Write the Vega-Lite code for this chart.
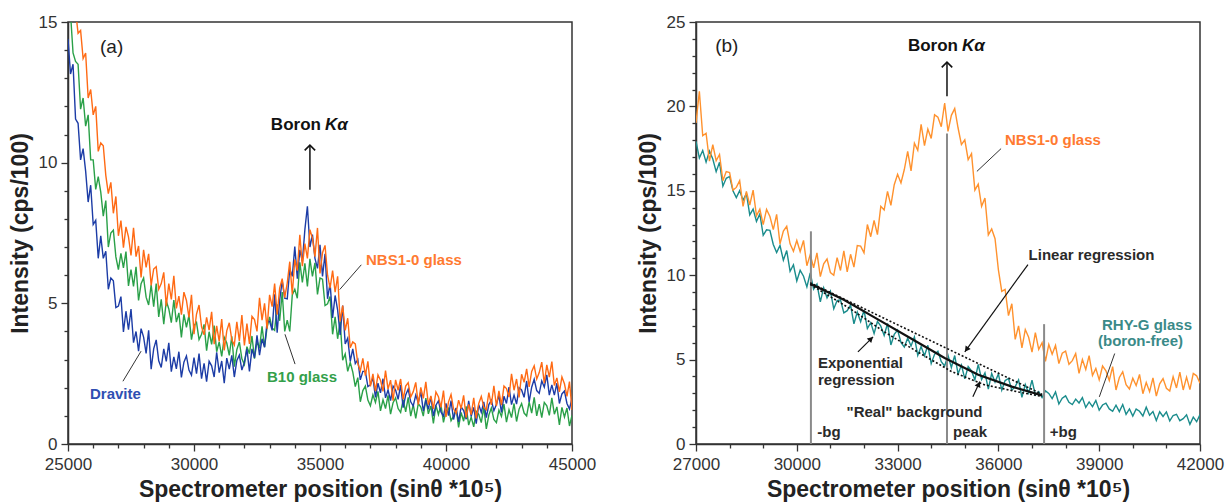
{
"$schema":"https://vega.github.io/schema/vega-lite/v6.json",
"padding":{"left":8,"top":12,"right":0,"bottom":0},
"background":"white",
"bounds":"flush",
"spacing":124,
"resolve":{"scale":{"color":"independent"}},
"config":{"font":"Liberation Sans","view":{"stroke":"#333","strokeWidth":1.5},
"axis":{"grid":false,"domainColor":"#333","domainWidth":1.5,"tickColor":"#333","tickWidth":1.3,"labelFont":"Liberation Sans","labelFontSize":17,"labelColor":"#333","titleFont":"Liberation Sans","titleFontSize":23,"titleFontWeight":"bold","titleColor":"#222","labelFlush":false,"labelOverlap":false}},
"datasets":{
"a":[
{"x":25000,"D":14.4,"G":15.8,"N":16.8},{"x":25100,"D":13.15,"G":15.3,"N":16.95},{"x":25200,"D":13.5,"G":13.9,"N":16.7},{"x":25300,"D":11.55,"G":13.6,"N":15.4},{"x":25400,"D":11.4,"G":13.5,"N":14.6},{"x":25500,"D":10.1,"G":11.9,"N":14.7},{"x":25600,"D":10.5,"G":12.3,"N":13.7},{"x":25700,"D":9.7,"G":11.3,"N":13.9},{"x":25800,"D":8.6,"G":11.7,"N":12.3},{"x":25900,"D":9.2,"G":10.1,"N":12.6},
{"x":26000,"D":7.8,"G":10.1,"N":11.7},{"x":26100,"D":7.95,"G":9.05,"N":12.0},{"x":26200,"D":6.6,"G":9.5,"N":10.4},{"x":26300,"D":7.4,"G":8.95,"N":10.7},{"x":26400,"D":6.6,"G":8.1,"N":10.6},{"x":26500,"D":6.85,"G":8.65,"N":9.55},{"x":26600,"D":5.5,"G":7.0,"N":8.9},{"x":26700,"D":5.9,"G":7.5,"N":9.3},{"x":26800,"D":5.8,"G":7.6,"N":8.2},{"x":26900,"D":4.85,"G":6.65,"N":8.8},
{"x":27000,"D":4.9,"G":6.2,"N":7.4},{"x":27100,"D":5.24,"G":6.78,"N":7.94},{"x":27200,"D":3.98,"G":6.26,"N":6.98},{"x":27300,"D":4.72,"G":6.84,"N":7.72},{"x":27400,"D":4.06,"G":5.62,"N":7.36},{"x":27500,"D":4.8,"G":6.2,"N":6.7},{"x":27600,"D":3.6,"G":5.6,"N":7.68},{"x":27700,"D":4.0,"G":6.3,"N":6.66},{"x":27800,"D":3.3,"G":5.1,"N":7.04},{"x":27900,"D":4.1,"G":5.7,"N":5.92},
{"x":28000,"D":3.8,"G":5.9,"N":6.9},{"x":28100,"D":3.22,"G":5.22,"N":6.28},{"x":28200,"D":4.04,"G":4.94,"N":6.76},{"x":28300,"D":2.66,"G":5.66,"N":5.64},{"x":28400,"D":3.38,"G":4.88,"N":6.22},{"x":28500,"D":3.7,"G":5.7,"N":6.3},{"x":28600,"D":2.96,"G":4.52,"N":5.5},{"x":28700,"D":2.72,"G":5.14,"N":5.7},{"x":28800,"D":3.38,"G":4.26,"N":6.1},{"x":28900,"D":2.94,"G":5.08,"N":4.9},
{"x":29000,"D":3.6,"G":4.8,"N":5.7},{"x":29100,"D":2.57,"G":4.31,"N":5.14},{"x":29200,"D":3.1,"G":5.12,"N":5.98},{"x":29300,"D":2.67,"G":4.33,"N":4.82},{"x":29400,"D":3.28,"G":4.66,"N":5.26},{"x":29500,"D":2.37,"G":3.79,"N":4.6},{"x":29600,"D":2.91,"G":4.61,"N":5.4},{"x":29700,"D":3.13,"G":4.15,"N":5.1},{"x":29800,"D":2.63,"G":4.57,"N":4.5},{"x":29900,"D":2.45,"G":3.71,"N":5.3},
{"x":30000,"D":3.07,"G":4.21,"N":3.9},{"x":30100,"D":2.5,"G":4.32,"N":4.62},{"x":30200,"D":3.21,"G":3.71,"N":4.94},{"x":30300,"D":2.32,"G":3.9,"N":4.16},{"x":30400,"D":2.87,"G":4.25,"N":3.88},{"x":30500,"D":2.22,"G":3.32,"N":4.5},{"x":30600,"D":2.94,"G":3.99,"N":4.05},{"x":30700,"D":2.78,"G":3.54,"N":4.7},{"x":30800,"D":2.38,"G":4.21,"N":3.55},{"x":30900,"D":3.26,"G":3.28,"N":4.2},
{"x":31000,"D":2.54,"G":3.63,"N":3.65},{"x":31100,"D":2.95,"G":3.11,"N":4.44},{"x":31200,"D":2.16,"G":3.79,"N":3.33},{"x":31300,"D":3.05,"G":3.59,"N":4.02},{"x":31400,"D":2.66,"G":3.15,"N":4.31},{"x":31500,"D":3.15,"G":3.83,"N":3.7},{"x":31600,"D":2.38,"G":2.75,"N":3.52},{"x":31700,"D":2.97,"G":3.35,"N":4.34},{"x":31800,"D":3.16,"G":3.63,"N":3.66},{"x":31900,"D":2.63,"G":3.03,"N":4.58},
{"x":32000,"D":2.9,"G":2.83,"N":3.5},{"x":32100,"D":3.38,"G":3.46,"N":4.28},{"x":32200,"D":2.58,"G":3.21,"N":3.56},{"x":32300,"D":3.38,"G":3.84,"N":4.54},{"x":32400,"D":3.06,"G":3.03,"N":4.42},{"x":32500,"D":3.86,"G":3.66,"N":4.0},{"x":32600,"D":3.16,"G":3.4,"N":5.2},{"x":32700,"D":3.74,"G":4.18,"N":4.4},{"x":32800,"D":3.44,"G":3.44,"N":5.0},{"x":32900,"D":4.34,"G":4.14,"N":4.1},
{"x":33000,"D":4.36,"G":4.52,"N":5.3},{"x":33100,"D":4.04,"G":4.12,"N":4.88},{"x":33200,"D":5.32,"G":4.04,"N":5.7},{"x":33300,"D":3.96,"G":4.96,"N":4.6},{"x":33400,"D":5.12,"G":4.38,"N":5.54},{"x":33500,"D":5.8,"G":5.4,"N":5.88},{"x":33600,"D":5.18,"G":4.0,"N":5.2},{"x":33700,"D":5.16,"G":4.4,"N":5.72},{"x":33800,"D":6.22,"G":4.0,"N":6.48},{"x":33900,"D":5.96,"G":5.3,"N":5.32},
{"x":34000,"D":7.02,"G":5.5,"N":6.56},{"x":34100,"D":5.88,"G":5.18,"N":6.16},{"x":34200,"D":6.9,"G":6.46,"N":7.44},{"x":34300,"D":6.48,"G":5.74,"N":6.32},{"x":34400,"D":7.62,"G":6.42,"N":7.12},{"x":34500,"D":8.45,"G":5.6,"N":6.6},{"x":34600,"D":7.0,"G":6.58,"N":7.62},{"x":34700,"D":7.44,"G":5.96,"N":7.32},{"x":34800,"D":6.6,"G":6.44,"N":6.66},{"x":34900,"D":6.24,"G":5.32,"N":7.68},
{"x":35000,"D":7.08,"G":5.9,"N":6.06},{"x":35100,"D":5.96,"G":5.86,"N":6.8},{"x":35200,"D":6.76,"G":4.92,"N":7.06},{"x":35300,"D":5.16,"G":4.98,"N":6.0},{"x":35400,"D":5.72,"G":5.24,"N":5.54},{"x":35500,"D":4.48,"G":3.9,"N":6.16},{"x":35600,"D":5.28,"G":4.52,"N":5.4},{"x":35700,"D":4.76,"G":3.74,"N":5.96},{"x":35800,"D":3.88,"G":4.36,"N":4.36},{"x":35900,"D":4.92,"G":2.98,"N":4.92},
{"x":36000,"D":3.56,"G":3.2,"N":4.04},{"x":36100,"D":3.76,"G":2.58,"N":4.47},{"x":36200,"D":2.94,"G":2.9,"N":3.42},{"x":36300,"D":3.38,"G":2.56,"N":3.63},{"x":36400,"D":2.86,"G":2.04,"N":3.56},{"x":36500,"D":3.0,"G":2.36,"N":2.86},{"x":36600,"D":2.28,"G":1.5,"N":2.6},{"x":36700,"D":2.58,"G":1.9,"N":3.04},{"x":36800,"D":2.58,"G":2.06,"N":2.43},{"x":36900,"D":2.04,"G":1.56,"N":2.94},
{"x":37000,"D":2.1,"G":1.36,"N":2.05},{"x":37100,"D":2.36,"G":1.75,"N":2.49},{"x":37200,"D":1.66,"G":1.48,"N":1.88},{"x":37300,"D":2.16,"G":1.87,"N":2.46},{"x":37400,"D":1.82,"G":1.18,"N":2.27},{"x":37500,"D":2.32,"G":1.57,"N":1.87},{"x":37600,"D":1.64,"G":1.26,"N":2.61},{"x":37700,"D":1.92,"G":1.73,"N":1.95},{"x":37800,"D":1.54,"G":1.06,"N":2.27},{"x":37900,"D":2.06,"G":1.47,"N":1.54},
{"x":38000,"D":1.92,"G":1.64,"N":2.28},{"x":38100,"D":1.59,"G":1.26,"N":1.91},{"x":38200,"D":2.1,"G":1.12,"N":2.31},{"x":38300,"D":1.29,"G":1.58,"N":1.59},{"x":38400,"D":1.74,"G":1.14,"N":2.06},{"x":38500,"D":1.95,"G":1.66,"N":2.18},{"x":38600,"D":1.5,"G":0.99,"N":1.67},{"x":38700,"D":1.35,"G":1.4,"N":1.86},{"x":38800,"D":1.74,"G":0.91,"N":2.19},{"x":38900,"D":1.47,"G":1.44,"N":1.4},
{"x":39000,"D":1.86,"G":1.31,"N":2.01},{"x":39100,"D":1.17,"G":0.99,"N":1.62},{"x":39200,"D":1.56,"G":1.63,"N":2.21},{"x":39300,"D":1.23,"G":1.07,"N":1.4},{"x":39400,"D":1.68,"G":1.35,"N":1.71},{"x":39500,"D":0.99,"G":0.73,"N":1.25},{"x":39600,"D":1.38,"G":1.37,"N":1.85},{"x":39700,"D":1.53,"G":1.05,"N":1.68},{"x":39800,"D":1.14,"G":1.39,"N":1.3},{"x":39900,"D":0.99,"G":0.77,"N":1.9},
{"x":40000,"D":1.44,"G":1.17,"N":0.96},{"x":40100,"D":1.01,"G":1.27,"N":1.5},{"x":40200,"D":1.54,"G":0.83,"N":1.76},{"x":40300,"D":0.87,"G":0.99,"N":1.25},{"x":40400,"D":1.28,"G":1.27,"N":1.09},{"x":40500,"D":0.79,"G":0.59,"N":1.56},{"x":40600,"D":1.32,"G":1.12,"N":1.26},{"x":40700,"D":1.19,"G":0.81,"N":1.73},{"x":40800,"D":0.88,"G":1.34,"N":0.94},{"x":40900,"D":1.53,"G":0.67,"N":1.41},
{"x":41000,"D":0.98,"G":0.96,"N":1.04},{"x":41100,"D":1.3,"G":0.61,"N":1.64},{"x":41200,"D":0.72,"G":1.16,"N":0.91},{"x":41300,"D":1.4,"G":1.05,"N":1.44},{"x":41400,"D":1.12,"G":0.76,"N":1.69},{"x":41500,"D":1.5,"G":1.31,"N":1.31},{"x":41600,"D":0.94,"G":0.54,"N":1.22},{"x":41700,"D":1.4,"G":1.03,"N":1.83},{"x":41800,"D":1.56,"G":1.28,"N":1.39},{"x":41900,"D":1.18,"G":0.87,"N":2.07},
{"x":42000,"D":1.4,"G":0.76,"N":1.35},{"x":42100,"D":1.74,"G":1.2,"N":1.89},{"x":42200,"D":1.12,"G":0.98,"N":1.38},{"x":42300,"D":1.7,"G":1.42,"N":2.06},{"x":42400,"D":1.44,"G":0.78,"N":1.97},{"x":42500,"D":2.02,"G":1.22,"N":1.67},{"x":42600,"D":1.4,"G":0.94,"N":2.49},{"x":42700,"D":1.74,"G":1.44,"N":1.91},{"x":42800,"D":1.42,"G":0.8,"N":2.31},{"x":42900,"D":2.0,"G":1.24,"N":1.66},
{"x":43000,"D":1.92,"G":1.44,"N":2.48},{"x":43100,"D":1.66,"G":1.1,"N":2.19},{"x":43200,"D":2.24,"G":1.0,"N":2.67},{"x":43300,"D":1.5,"G":1.5,"N":2.03},{"x":43400,"D":2.02,"G":1.1,"N":2.58},{"x":43500,"D":2.3,"G":1.66,"N":2.78},{"x":43600,"D":1.9,"G":1.0,"N":2.31},{"x":43700,"D":1.8,"G":1.42,"N":2.54},{"x":43800,"D":2.24,"G":0.94,"N":2.91},{"x":43900,"D":2.02,"G":1.48,"N":2.16},
{"x":44000,"D":2.46,"G":1.36,"N":2.81},{"x":44100,"D":1.74,"G":1.02,"N":2.38},{"x":44200,"D":2.1,"G":1.64,"N":2.93},{"x":44300,"D":1.74,"G":1.06,"N":2.08},{"x":44400,"D":2.16,"G":1.32,"N":2.35},{"x":44500,"D":1.44,"G":0.68,"N":1.85},{"x":44600,"D":1.78,"G":1.3,"N":2.38},{"x":44700,"D":1.88,"G":0.96,"N":2.14},{"x":44800,"D":1.44,"G":1.28,"N":1.69},{"x":44900,"D":1.24,"G":0.64,"N":2.22},
{"x":45000,"D":1.64,"G":1.02,"N":1.21}
],
"b":[
{"x":27000,"R":17.93,"N":19.02},{"x":27100,"R":16.94,"N":20.9},{"x":27200,"R":17.39,"N":18.26},{"x":27300,"R":16.7,"N":18.41},{"x":27400,"R":17.36,"N":16.76},{"x":27500,"R":16.88,"N":17.73},{"x":27600,"R":16.13,"N":16.78},{"x":27700,"R":16.69,"N":17.15},{"x":27800,"R":15.27,"N":15.6},{"x":27900,"R":15.74,"N":16.14},
{"x":28000,"R":15.85,"N":16.08},{"x":28100,"R":15.0,"N":15.04},{"x":28200,"R":14.6,"N":15.2},{"x":28300,"R":15.01,"N":15.6},{"x":28400,"R":14.43,"N":14.08},{"x":28500,"R":14.84,"N":14.96},{"x":28600,"R":13.57,"N":14.16},{"x":28700,"R":13.92,"N":15.04},{"x":28800,"R":13.19,"N":13.52},{"x":28900,"R":13.63,"N":13.92},
{"x":29000,"R":12.36,"N":13.0},{"x":29100,"R":12.69,"N":13.9},{"x":29200,"R":12.66,"N":13.48},{"x":29300,"R":11.82,"N":12.7},{"x":29400,"R":11.34,"N":13.6},{"x":29500,"R":11.76,"N":11.86},{"x":29600,"R":10.89,"N":12.62},{"x":29700,"R":11.46,"N":12.9},{"x":29800,"R":10.23,"N":11.86},{"x":29900,"R":10.62,"N":11.42},
{"x":30000,"R":9.66,"N":12.06},{"x":30100,"R":10.29,"N":11.4},{"x":30200,"R":9.94,"N":12.06},{"x":30300,"R":9.31,"N":10.56},{"x":30400,"R":10.13,"N":11.22},{"x":30500,"R":9.17,"N":10.44},{"x":30600,"R":9.47,"N":11.32},{"x":30700,"R":8.42,"N":9.92},{"x":30800,"R":9.26,"N":10.68},{"x":30900,"R":8.66,"N":10.96},
{"x":31000,"R":9.05,"N":10.16},{"x":31100,"R":8.01,"N":10.0},{"x":31200,"R":8.5,"N":11.04},{"x":31300,"R":8.54,"N":10.28},{"x":31400,"R":7.77,"N":11.44},{"x":31500,"R":7.9,"N":10.2},{"x":31600,"R":8.23,"N":11.24},{"x":31700,"R":7.12,"N":10.48},{"x":31800,"R":7.81,"N":11.76},{"x":31900,"R":7.24,"N":11.72},
{"x":32000,"R":7.93,"N":11.32},{"x":32100,"R":6.84,"N":13.0},{"x":32200,"R":7.19,"N":12.28},{"x":32300,"R":6.55,"N":13.24},{"x":32400,"R":7.26,"N":12.4},{"x":32500,"R":6.98,"N":14.08},{"x":32600,"R":6.43,"N":13.86},{"x":32700,"R":7.14,"N":14.96},{"x":32800,"R":5.87,"N":14.14},{"x":32900,"R":6.49,"N":15.36},
{"x":33000,"R":6.75,"N":15.98},{"x":33100,"R":6.02,"N":15.46},{"x":33200,"R":5.74,"N":16.26},{"x":33300,"R":6.27,"N":17.34},{"x":33400,"R":5.81,"N":16.18},{"x":33500,"R":6.34,"N":17.82},{"x":33600,"R":5.25,"N":17.4},{"x":33700,"R":5.78,"N":18.94},{"x":33800,"R":5.23,"N":17.68},{"x":33900,"R":5.85,"N":18.66},
{"x":34000,"R":4.76,"N":18.1},{"x":34100,"R":5.31,"N":19.5},{"x":34200,"R":5.5,"N":19.36},{"x":34300,"R":4.88,"N":18.8},{"x":34400,"R":4.62,"N":20.2},{"x":34500,"R":5.26,"N":18.52},{"x":34600,"R":4.53,"N":19.47},{"x":34700,"R":5.24,"N":19.87},{"x":34800,"R":4.15,"N":18.72},{"x":34900,"R":4.68,"N":17.74},
{"x":35000,"R":3.86,"N":18.02},{"x":35100,"R":4.59,"N":16.84},{"x":35200,"R":4.33,"N":17.2},{"x":35300,"R":3.8,"N":15.04},{"x":35400,"R":4.71,"N":15.4},{"x":35500,"R":3.82,"N":14.08},{"x":35600,"R":4.21,"N":14.57},{"x":35700,"R":3.25,"N":12.39},{"x":35800,"R":4.18,"N":12.74},{"x":35900,"R":3.67,"N":12.16},
{"x":36000,"R":4.15,"N":10.32},{"x":36100,"R":3.19,"N":9.04},{"x":36200,"R":3.76,"N":9.16},{"x":36300,"R":3.88,"N":7.61},{"x":36400,"R":3.19,"N":8.31},{"x":36500,"R":3.4,"N":6.2},{"x":36600,"R":3.8,"N":7.0},{"x":36700,"R":2.76,"N":5.7},{"x":36800,"R":3.52,"N":6.78},{"x":36900,"R":3.02,"N":6.32},
{"x":37000,"R":3.78,"N":5.44},{"x":37100,"R":2.9,"N":6.6},{"x":37200,"R":3.1,"N":5.6},{"x":37300,"R":2.75,"N":6.0},{"x":37400,"R":3.15,"N":4.9},{"x":37500,"R":3.0,"N":5.9},{"x":37600,"R":2.69,"N":5.32},{"x":37700,"R":3.08,"N":5.84},{"x":37800,"R":2.37,"N":4.76},{"x":37900,"R":2.71,"N":5.38},
{"x":38000,"R":2.85,"N":5.5},{"x":38100,"R":2.47,"N":4.72},{"x":38200,"R":2.34,"N":4.94},{"x":38300,"R":2.66,"N":5.36},{"x":38400,"R":2.43,"N":4.18},{"x":38500,"R":2.75,"N":5.0},{"x":38600,"R":2.17,"N":4.42},{"x":38700,"R":2.49,"N":5.24},{"x":38800,"R":2.21,"N":4.06},{"x":38900,"R":2.58,"N":4.48},
{"x":39000,"R":2.0,"N":3.8},{"x":39100,"R":2.31,"N":4.62},{"x":39200,"R":2.42,"N":4.34},{"x":39300,"R":2.08,"N":3.76},{"x":39400,"R":1.94,"N":4.58},{"x":39500,"R":2.3,"N":3.2},{"x":39600,"R":1.92,"N":3.94},{"x":39700,"R":2.34,"N":4.28},{"x":39800,"R":1.76,"N":3.52},{"x":39900,"R":2.08,"N":3.26},
{"x":40000,"R":1.65,"N":3.9},{"x":40100,"R":2.07,"N":3.46},{"x":40200,"R":1.94,"N":4.12},{"x":40300,"R":1.66,"N":2.98},{"x":40400,"R":2.18,"N":3.64},{"x":40500,"R":1.7,"N":3.1},{"x":40600,"R":1.92,"N":3.92},{"x":40700,"R":1.39,"N":2.84},{"x":40800,"R":1.91,"N":3.56},{"x":40900,"R":1.63,"N":3.88},
{"x":41000,"R":1.9,"N":3.3},{"x":41100,"R":1.37,"N":3.14},{"x":41200,"R":1.69,"N":3.98},{"x":41300,"R":1.76,"N":3.32},{"x":41400,"R":1.38,"N":4.26},{"x":41500,"R":1.5,"N":3.2},{"x":41600,"R":1.73,"N":3.96},{"x":41700,"R":1.16,"N":3.22},{"x":41800,"R":1.59,"N":4.18},{"x":41900,"R":1.32,"N":4.04},
{"x":42000,"R":1.75,"N":3.6}
],
"aLead":[{"x":36639,"y":6.37,"x2":35782,"y2":5.49},{"x":33610,"y":3.9,"x2":34010,"y2":2.84},{"x":27180,"y":2.23,"x2":27900,"y2":3.3}],
"aLab":[{"x":25873,"y":1.78,"t":"Dravite"},{"x":32897,"y":2.38,"t":"B10 glass"},{"x":36825,"y":6.55,"t":"NBS1-0 glass"}],
"aTag":[{"x":26270,"y":14.1,"t":"(a)"}],
"aBoron":[{"x":34600,"y":11.35,"t":"Boron","u":"Kα"}],
"aArrow":[{"x":34600,"y":9.04,"y2":10.62}],
"aHead":[{"x":34600,"y":10.55}],
"bV":[{"x":30420,"y":0,"y2":12.6},{"x":34470,"y":0,"y2":18.4},{"x":37360,"y":0,"y2":7.1}],
"bExp":[{"x":30400,"y":9.5},{"x":31400,"y":8.55},{"x":32400,"y":7.4},{"x":33400,"y":6.25},{"x":34400,"y":5.1},{"x":35400,"y":4.1},{"x":36400,"y":3.4},{"x":37300,"y":2.88}],
"bLin":[{"x":30400,"y":9.55},{"x":37300,"y":2.95}],
"bReal":[{"x":30400,"y":9.45},{"x":31600,"y":8.0},{"x":32600,"y":6.65},{"x":33600,"y":5.45},{"x":34600,"y":4.3},{"x":35600,"y":3.5},{"x":36600,"y":3.08},{"x":37300,"y":2.82}],
"bLead":[{"x":36080,"y":17.5,"x2":35360,"y2":16.15},{"x":39461,"y":5.36,"x2":39003,"y2":2.79}],
"bArr":[{"x":31820,"y":5.46,"x2":32270,"y2":6.35},{"x":36880,"y":10.63,"x2":35000,"y2":5.46},{"x":35240,"y":2.8,"x2":35450,"y2":3.7}],
"bTri":[{"x":32207,"y":6.225,"a":45},{"x":35052,"y":5.6,"a":216},{"x":35413,"y":3.54,"a":25}],
"bLab":[{"x":36196,"y":18.03,"t":"NBS1-0 glass"},{"x":39083,"y":7.05,"t":"RHY-G glass"},{"x":38964,"y":6.1,"t":"(boron-free)"}],
"bTxtL":[{"x":30631,"y":4.81,"t":"Exponential"},{"x":30631,"y":3.82,"t":"regression"},{"x":30610,"y":0.71,"t":"-bg"},{"x":34649,"y":0.71,"t":"peak"},{"x":37527,"y":0.71,"t":"+bg"}],
"bTxtC":[{"x":38771,"y":11.2,"t":"Linear regression"},{"x":33503,"y":1.9,"t":"\"Real\" background"}],
"bTag":[{"x":27570,"y":23.6,"t":"(b)"}],
"bBoron":[{"x":34470,"y":23.57,"t":"Boron","u":"Kα"}],
"bArrow":[{"x":34470,"y":20.6,"y2":22.57}],
"bHead":[{"x":34470,"y":22.5}]
},
"hconcat":[
{
"width":504,"height":422,
"resolve":{"axis":{"x":"independent","y":"independent"}},
"encoding":{
"x":{"field":"x","type":"quantitative","scale":{"domain":[25000,45000],"nice":false,"zero":false},"axis":null},
"y":{"field":"y","type":"quantitative","scale":{"domain":[0,15],"nice":false,"zero":false},"axis":null}
},
"layer":[
{"data":{"name":"a"},"mark":{"type":"line","color":"#2aa048","strokeWidth":1.4,"clip":true},
"encoding":{
"x":{"field":"x","type":"quantitative","scale":{"domain":[25000,45000],"nice":false,"zero":false},"axis":{"orient":"bottom","values":[25000,30000,35000,40000,45000],"format":"d","tickSize":7,"labelPadding":5,"title":"Spectrometer position (sinθ *10⁵)","titlePadding":6}},
"y":{"field":"G","type":"quantitative","scale":{"domain":[0,15],"nice":false,"zero":false},"axis":{"orient":"left","values":[0,5,10,15],"format":"d","tickSize":7,"labelPadding":4,"title":"Intensity (cps/100)","titlePadding":6}}}},
{"data":{"name":"a"},"mark":{"type":"line","color":"#1c3ca6","strokeWidth":1.4,"clip":true},
"encoding":{
"x":{"field":"x","type":"quantitative","scale":{"domain":[25000,45000],"nice":false,"zero":false},"axis":{"orient":"bottom","values":[26000,27000,28000,29000,31000,32000,33000,34000,36000,37000,38000,39000,41000,42000,43000,44000],"tickSize":4,"labels":false,"domain":false,"title":null}},
"y":{"field":"D","type":"quantitative","scale":{"domain":[0,15],"nice":false,"zero":false},"axis":{"orient":"left","values":[1,2,3,4,6,7,8,9,11,12,13,14],"tickSize":4,"labels":false,"domain":false,"title":null}}}},
{"data":{"name":"a"},"mark":{"type":"line","color":"#ff6a14","strokeWidth":1.4,"clip":true},
"encoding":{"y":{"field":"N","type":"quantitative","scale":{"domain":[0,15],"nice":false,"zero":false},"axis":null}}},
{"data":{"name":"aLead"},"mark":{"type":"rule","color":"#333","strokeWidth":1},
"encoding":{"x2":{"field":"x2"},"y2":{"field":"y2"}}},
{"data":{"name":"aArrow"},"mark":{"type":"rule","color":"#111","strokeWidth":1.5},
"encoding":{"y2":{"field":"y2"}}},
{"data":{"name":"aHead"},"mark":{"type":"point","shape":"M -1 0.6 L 0 -0.4 L 1 0.6","filled":false,"stroke":"#111","strokeWidth":1.6,"size":110,"opacity":1}},
{"data":{"name":"aLab"},"mark":{"type":"text","align":"left","baseline":"middle","fontSize":15,"fontWeight":"bold"},
"encoding":{"text":{"field":"t"},"color":{"field":"t","type":"nominal","scale":{"domain":["Dravite","B10 glass","NBS1-0 glass"],"range":["#2f4fb2","#33a04a","#ff7a30"]},"legend":null}}},
{"data":{"name":"aTag"},"mark":{"type":"text","align":"left","baseline":"middle","fontSize":19,"color":"#222"},
"encoding":{"text":{"field":"t"}}},
{"data":{"name":"aBoron"},"mark":{"type":"text","align":"right","baseline":"middle","fontSize":17,"fontWeight":"bold","color":"#111","dx":11},
"encoding":{"text":{"field":"t"}}},
{"data":{"name":"aBoron"},"mark":{"type":"text","align":"left","baseline":"middle","fontSize":17,"fontWeight":"bold","fontStyle":"italic","color":"#111","dx":15},
"encoding":{"text":{"field":"u"}}}
]
},
{
"width":504,"height":422,
"resolve":{"axis":{"x":"independent","y":"independent"}},
"encoding":{
"x":{"field":"x","type":"quantitative","scale":{"domain":[27000,42000],"nice":false,"zero":false},"axis":null},
"y":{"field":"y","type":"quantitative","scale":{"domain":[0,25],"nice":false,"zero":false},"axis":null}
},
"layer":[
{"data":{"name":"b"},"mark":{"type":"line","color":"#1a8c8c","strokeWidth":1.4,"clip":true},
"encoding":{
"x":{"field":"x","type":"quantitative","scale":{"domain":[27000,42000],"nice":false,"zero":false},"axis":{"orient":"bottom","values":[27000,30000,33000,36000,39000,42000],"format":"d","tickSize":7,"labelPadding":5,"title":"Spectrometer position (sinθ *10⁵)","titlePadding":6}},
"y":{"field":"R","type":"quantitative","scale":{"domain":[0,25],"nice":false,"zero":false},"axis":{"orient":"left","values":[0,5,10,15,20,25],"format":"d","tickSize":7,"labelPadding":4,"title":"Intensity (cps/100)","titlePadding":6}}}},
{"data":{"name":"b"},"mark":{"type":"line","color":"#ff922e","strokeWidth":1.4,"clip":true},
"encoding":{
"x":{"field":"x","type":"quantitative","scale":{"domain":[27000,42000],"nice":false,"zero":false},"axis":{"orient":"bottom","values":[28000,29000,31000,32000,34000,35000,37000,38000,40000,41000],"tickSize":4,"labels":false,"domain":false,"title":null}},
"y":{"field":"N","type":"quantitative","scale":{"domain":[0,25],"nice":false,"zero":false},"axis":{"orient":"left","values":[1,2,3,4,6,7,8,9,11,12,13,14,16,17,18,19,21,22,23,24],"tickSize":4,"labels":false,"domain":false,"title":null}}}},
{"data":{"name":"bV"},"mark":{"type":"rule","color":"#8a8a8a","strokeWidth":2},
"encoding":{"y2":{"field":"y2"}}},
{"data":{"name":"bLin"},"mark":{"type":"line","color":"#111","strokeWidth":1.6,"strokeDash":[2,2]},"encoding":{}},
{"data":{"name":"bReal"},"mark":{"type":"line","color":"#111","strokeWidth":1.6,"strokeDash":[2,2]},"encoding":{}},
{"data":{"name":"bExp"},"mark":{"type":"line","color":"#111","strokeWidth":2.2},"encoding":{}},
{"data":{"name":"bLead"},"mark":{"type":"rule","color":"#333","strokeWidth":1},
"encoding":{"x2":{"field":"x2"},"y2":{"field":"y2"}}},
{"data":{"name":"bArr"},"mark":{"type":"rule","color":"#111","strokeWidth":1.2},
"encoding":{"x2":{"field":"x2"},"y2":{"field":"y2"}}},
{"data":{"name":"bTri"},"mark":{"type":"point","shape":"triangle-up","filled":true,"color":"#111","size":40,"opacity":1},
"encoding":{"angle":{"field":"a","type":"quantitative","scale":null}}},
{"data":{"name":"bArrow"},"mark":{"type":"rule","color":"#111","strokeWidth":1.5},
"encoding":{"y2":{"field":"y2"}}},
{"data":{"name":"bHead"},"mark":{"type":"point","shape":"M -1 0.6 L 0 -0.4 L 1 0.6","filled":false,"stroke":"#111","strokeWidth":1.6,"size":110,"opacity":1}},
{"data":{"name":"bLab"},"mark":{"type":"text","align":"left","baseline":"middle","fontSize":15,"fontWeight":"bold"},
"encoding":{"text":{"field":"t"},"color":{"field":"t","type":"nominal","scale":{"domain":["NBS1-0 glass","RHY-G glass","(boron-free)"],"range":["#ff7a30","#3a8a88","#3a8a88"]},"legend":null}}},
{"data":{"name":"bTxtL"},"mark":{"type":"text","align":"left","baseline":"middle","fontSize":15,"fontWeight":"bold","color":"#2a2a2a"},
"encoding":{"text":{"field":"t"}}},
{"data":{"name":"bTxtC"},"mark":{"type":"text","align":"center","baseline":"middle","fontSize":15,"fontWeight":"bold","color":"#2a2a2a"},
"encoding":{"text":{"field":"t"}}},
{"data":{"name":"bTag"},"mark":{"type":"text","align":"left","baseline":"middle","fontSize":19,"color":"#222"},
"encoding":{"text":{"field":"t"}}},
{"data":{"name":"bBoron"},"mark":{"type":"text","align":"right","baseline":"middle","fontSize":17,"fontWeight":"bold","color":"#111","dx":11},
"encoding":{"text":{"field":"t"}}},
{"data":{"name":"bBoron"},"mark":{"type":"text","align":"left","baseline":"middle","fontSize":17,"fontWeight":"bold","fontStyle":"italic","color":"#111","dx":15},
"encoding":{"text":{"field":"u"}}}
]
}
]
}
